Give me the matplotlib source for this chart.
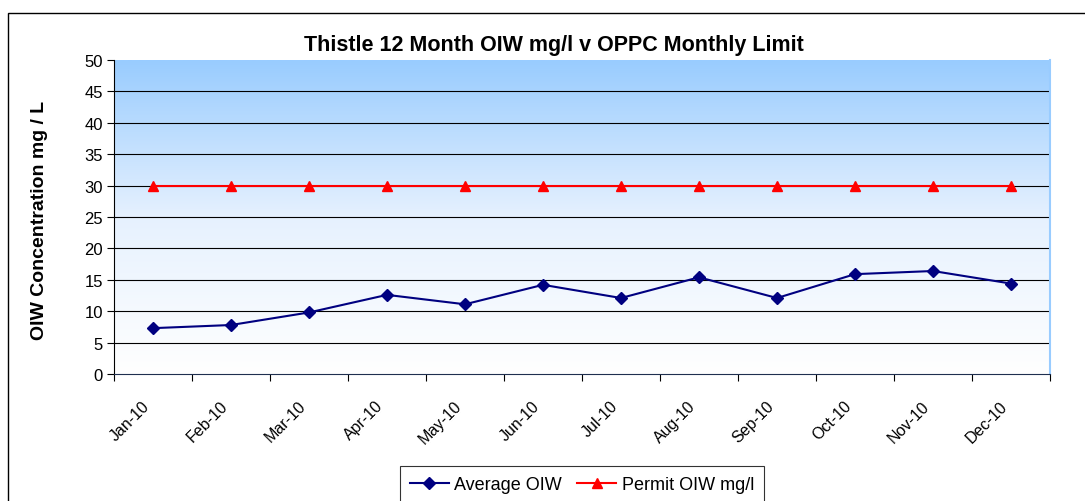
import numpy as np
import matplotlib
matplotlib.use("Agg")
import matplotlib.pyplot as plt
import matplotlib.transforms as mtransforms
from matplotlib.colors import LinearSegmentedColormap
from matplotlib.patches import Rectangle

plt.rcParams['font.family'] = ['Liberation Sans', 'DejaVu Sans']

months = ["Jan-10", "Feb-10", "Mar-10", "Apr-10", "May-10", "Jun-10",
          "Jul-10", "Aug-10", "Sep-10", "Oct-10", "Nov-10", "Dec-10"]
average_oiw = [7.3, 7.8, 9.8, 12.6, 11.1, 14.2, 12.1, 15.4, 12.1, 15.9, 16.4, 14.4]
permit_oiw = [30, 30, 30, 30, 30, 30, 30, 30, 30, 30, 30, 30]
y_ticks = [0, 5, 10, 15, 20, 25, 30, 35, 40, 45, 50]

W, H = 1085, 502
fig = plt.figure(figsize=(W / 100, H / 100), dpi=100)
fig.patch.set_facecolor("white")

# outer chart frame
fig.add_artist(Rectangle((8 / W, -0.2), 2.0, 1.2 - 14 / H, transform=fig.transFigure,
                         fill=False, edgecolor="black", linewidth=1.0))

left, right, top, bottom = 114, 1050, 61, 375
ax = fig.add_axes([left / W, 1 - bottom / H, (right - left) / W, (bottom - top) / H])

x = np.arange(len(months))
ax.set_xlim(-0.5, len(months) - 0.5)
ax.set_ylim(0, 50)

# gradient background
cmap = LinearSegmentedColormap.from_list("bg", ["#ffffff", "#e6f1fe", "#99ccff"])
grad = np.linspace(0, 1, 256).reshape(-1, 1)
ax.imshow(grad, extent=[0, 1, 0, 1], transform=ax.transAxes, origin="lower",
          aspect="auto", cmap=cmap, zorder=0)

for yv in y_ticks[1:-1]:
    ax.axhline(yv, color="black", linewidth=0.8, zorder=1)

ax.plot(x, average_oiw, color="#000080", marker="D", markersize=6, linewidth=1.5,
        label="Average OIW", zorder=3)
ax.plot(x, permit_oiw, color="#ff0000", marker="^", markersize=7, linewidth=1.5,
        label="Permit OIW mg/l", zorder=3)

ax.set_yticks(y_ticks)
ax.set_yticklabels([str(v) for v in y_ticks], fontsize=12)
ax.set_xticks(np.arange(-0.5, len(months), 1.0))
ax.set_xticklabels([])
ax.set_xticks(x, minor=True)
ax.set_xticklabels(months, minor=True, rotation=45, ha="right", va="center",
                   rotation_mode="anchor", fontsize=11.5)
ax.tick_params(axis="x", which="minor", length=0, pad=21)
ax.tick_params(axis="x", which="major", length=5, direction="out", color="black")
ax.tick_params(axis="y", length=5, direction="out", color="black", pad=3)
shift = mtransforms.ScaledTranslation(-6 / 100, 0, fig.dpi_scale_trans)
for lbl in ax.get_xticklabels(minor=True):
    lbl.set_transform(lbl.get_transform() + shift)

ax.spines["top"].set_visible(False)
ax.spines["right"].set_color("#99ccff")
ax.spines["right"].set_linewidth(1.5)
ax.spines["left"].set_color("black")
ax.spines["bottom"].set_color("#1f2f4f")

fig.text(554 / W, 1 - 46 / H, "Thistle 12 Month OIW mg/l v OPPC Monthly Limit",
         fontsize=15.5, fontweight="bold", ha="center", va="center")
fig.text(40 / W, 1 - 220 / H, "OIW Concentration mg / L", rotation=90, fontsize=14,
         fontweight="bold", ha="center", va="center")

leg = fig.legend(loc="upper left", bbox_to_anchor=(400 / W, 1 - 467 / H), ncol=2,
                 fontsize=13, frameon=True, fancybox=False, edgecolor="black",
                 borderpad=0.55, handlelength=2.15, columnspacing=0.85, handletextpad=0.3,
                 borderaxespad=0)
leg.get_frame().set_linewidth(0.8)

fig.savefig("out.png", dpi=100)
